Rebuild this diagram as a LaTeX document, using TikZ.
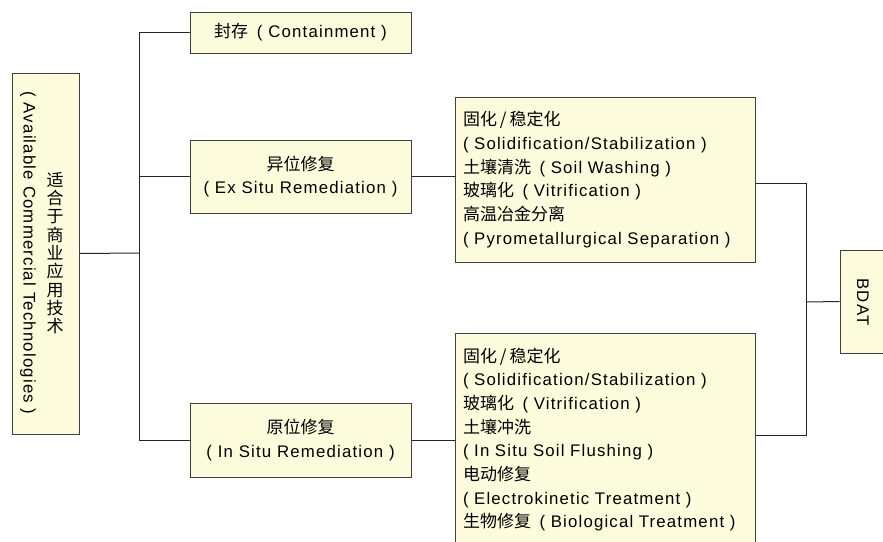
\documentclass[tikz,border=0pt]{standalone}
\usepackage{fontspec}
\setmainfont{Liberation Sans}[LetterSpace=7]
\newfontfamily\cjk{Noto Sans CJK SC}
\newcommand\zh[1]{{\cjk\fontsize{17}{23.7}\selectfont #1}}
\newcommand\slashsep{\hspace{3pt}/\hspace{3pt}}
\definecolor{boxfill}{RGB}{252,252,221}
\definecolor{boxline}{RGB}{64,64,64}
\tikzset{
  box/.style={draw=boxline, fill=boxfill, line width=1pt, inner sep=0pt,
    font=\fontsize{16.8}{23.7}\selectfont},
  listbox/.style={box, align=left, text width=284pt, inner xsep=8pt},
  link/.style={draw=black!85, line width=1pt},
}
\begin{document}
\begin{tikzpicture}[x=1pt,y=-1pt]
\useasboundingbox (0,0) rectangle (883,541);

% root box with vertical captions
\node[box, minimum width=67pt, minimum height=361pt] (avail) at (45.5,253.5) {};
\node[font=\cjk\fontsize{17}{18.3}\selectfont, align=center, inner sep=0pt] (availzh) at (55,253)
  {适\\合\\于\\商\\业\\应\\用\\技\\术};
\node[font=\fontsize{16.8}{20}\selectfont, rotate=-90, inner sep=0pt] (availen) at (28,253)
  {( Available Commercial Technologies )};

% second level
\node[box, minimum width=221pt, minimum height=41pt] (cont) at (300.5,32.5)
  {\zh{封存}\hspace{3pt} ( Containment )};
\node[box, minimum width=221pt, minimum height=73pt, align=center] (exsitu) at (300.5,176.5)
  {\zh{异位修复}\\( Ex Situ Remediation )};
\node[box, minimum width=221pt, minimum height=74pt, align=center] (insitu) at (300.5,440)
  {\zh{原位修复}\\( In Situ Remediation )};

% technology lists
\node[listbox, minimum height=165pt] (exlist) at (605,179.5)
  {\zh{固化\slashsep 稳定化}\\
   ( Solidification/Stabilization )\\
   \zh{土壤清洗}\hspace{3pt} ( Soil Washing )\\
   \zh{玻璃化}\hspace{3pt} ( Vitrification )\\
   \zh{高温冶金分离}\\
   ( Pyrometallurgical Separation )};
\node[listbox, minimum height=213pt] (inlist) at (605,439.5)
  {\zh{固化\slashsep 稳定化}\\
   ( Solidification/Stabilization )\\
   \zh{玻璃化}\hspace{3pt} ( Vitrification )\\
   \zh{土壤冲洗}\\
   ( In Situ Soil Flushing )\\
   \zh{电动修复}\\
   ( Electrokinetic Treatment )\\
   \zh{生物修复}\hspace{3pt} ( Biological Treatment )};

% result box
\node[box, minimum width=46pt, minimum height=103pt] (bdat) at (863,301.5) {};
\node[font=\fontsize{16.8}{20}\selectfont, rotate=-90, inner sep=0pt] (bdattext) at (863,302) {BDAT};

% connectors
\coordinate (lj) at (139,253);
\coordinate (rj) at (806,302);
\draw[link] (avail.east) -- (lj);
\draw[link] (lj) |- (cont.west);
\draw[link] (lj) |- (exsitu.west);
\draw[link] (lj) |- (insitu.west);
\draw[link] (exsitu.east) -- (exsitu.east -| exlist.west);
\draw[link] (insitu.east) -- (insitu.east -| inlist.west);
\draw[link] ([yshift=-4pt]exlist.east) -| (rj);
\draw[link] ([yshift=4pt]inlist.east) -| (rj);
\draw[link] (rj) -- (bdat.west);
\end{tikzpicture}
\end{document}
